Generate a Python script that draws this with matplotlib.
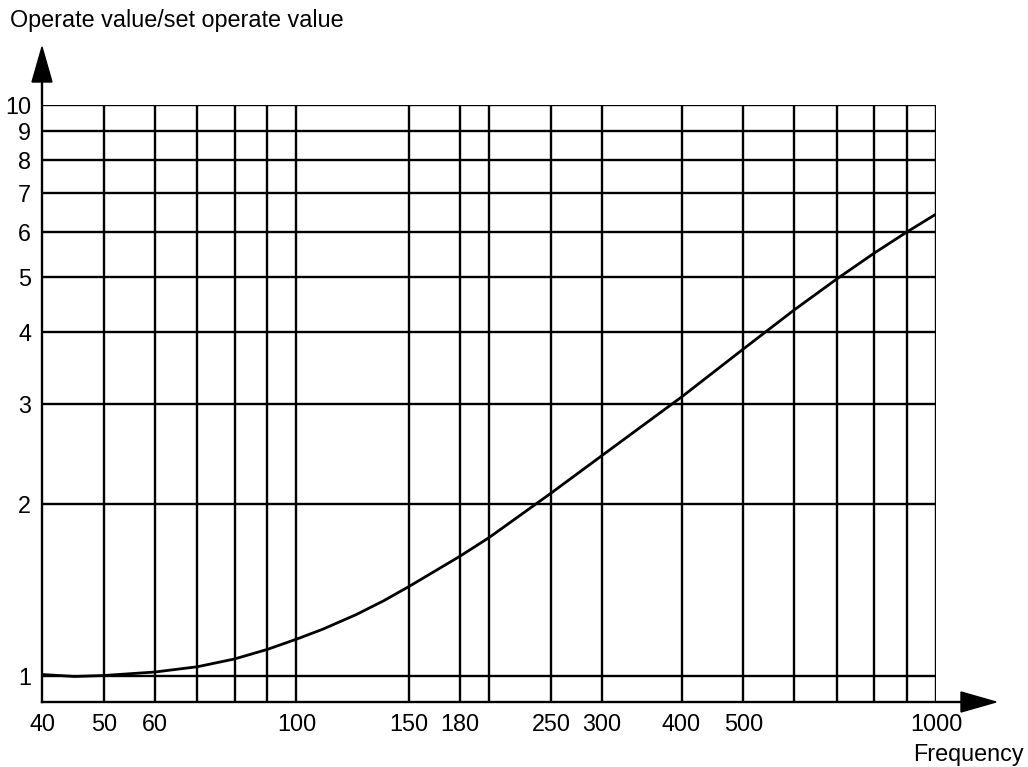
import matplotlib.pyplot as plt
from matplotlib.patches import Polygon
from matplotlib.lines import Line2D

plt.rcParams["font.family"] = ["Liberation Sans", "DejaVu Sans"]

# operate value ratio vs frequency
freq = [40, 45, 50, 60, 70, 80, 90, 100, 110, 124, 137, 150, 180, 200,
        250, 300, 400, 500, 600, 700, 800, 900, 1000]
ratio = [1.006, 0.998, 1.002, 1.016, 1.038, 1.071, 1.113, 1.16, 1.208, 1.281,
         1.355, 1.435, 1.62, 1.747, 2.09, 2.43, 3.08, 3.74, 4.375, 4.96,
         5.50, 5.99, 6.44]

x_grid = [50, 60, 70, 80, 90, 100, 150, 180, 200, 250, 300, 400, 500,
          600, 700, 800, 900, 1000]
x_labels = [40, 50, 60, 100, 150, 180, 250, 300, 400, 500, 1000]
y_grid = [1, 2, 3, 4, 5, 6, 7, 8, 9, 10]

W, H = 1028, 767
fig = plt.figure(figsize=(W / 100, H / 100), dpi=100)
ax = fig.add_axes([42 / W, 1 - 702 / H, (936 - 42) / W, (702 - 105) / H])
ax.set_xscale("log")
ax.set_yscale("log")
ax.set_xlim(40, 1000)
ax.set_ylim(0.9004, 10)

lw = 1.7
for v in x_grid:
    ax.axvline(v, color="black", lw=lw)
for v in y_grid:
    ax.axhline(v, color="black", lw=lw)

ax.plot(freq, ratio, color="black", lw=2.0, solid_capstyle="round",
        solid_joinstyle="round")

for s in ax.spines.values():
    s.set_visible(False)

ax.set_xticks(x_labels)
ax.set_xticklabels([str(v) for v in x_labels])
ax.set_yticks(y_grid)
ax.set_yticklabels([str(v) for v in y_grid])
ax.xaxis.set_minor_locator(plt.NullLocator())
ax.yaxis.set_minor_locator(plt.NullLocator())
ax.tick_params(axis="both", length=0, labelsize=16.8)
ax.tick_params(axis="x", pad=8)
ax.tick_params(axis="y", pad=8)


def fx(px):
    return px / W


def fy(py):
    return 1 - py / H


# axis lines with arrow heads
fig.add_artist(Line2D([fx(42), fx(42)], [fy(702), fy(80)], color="black", lw=lw))
fig.add_artist(Line2D([fx(42), fx(962)], [fy(702), fy(702)], color="black", lw=lw))
fig.add_artist(Polygon([[fx(32), fy(82)], [fx(52), fy(82)], [fx(42), fy(47)]],
                       closed=True, color="black", transform=fig.transFigure))
fig.add_artist(Polygon([[fx(961), fy(692)], [fx(961), fy(712)], [fx(996), fy(702)]],
                       closed=True, color="black", transform=fig.transFigure))

fig.text(fx(10), fy(20), "Operate value/set operate value", fontsize=16.8,
         ha="left", va="center")
fig.text(fx(968), fy(754), "Frequency", fontsize=16.8, ha="center", va="center")

fig.savefig("out.png", dpi=100)
